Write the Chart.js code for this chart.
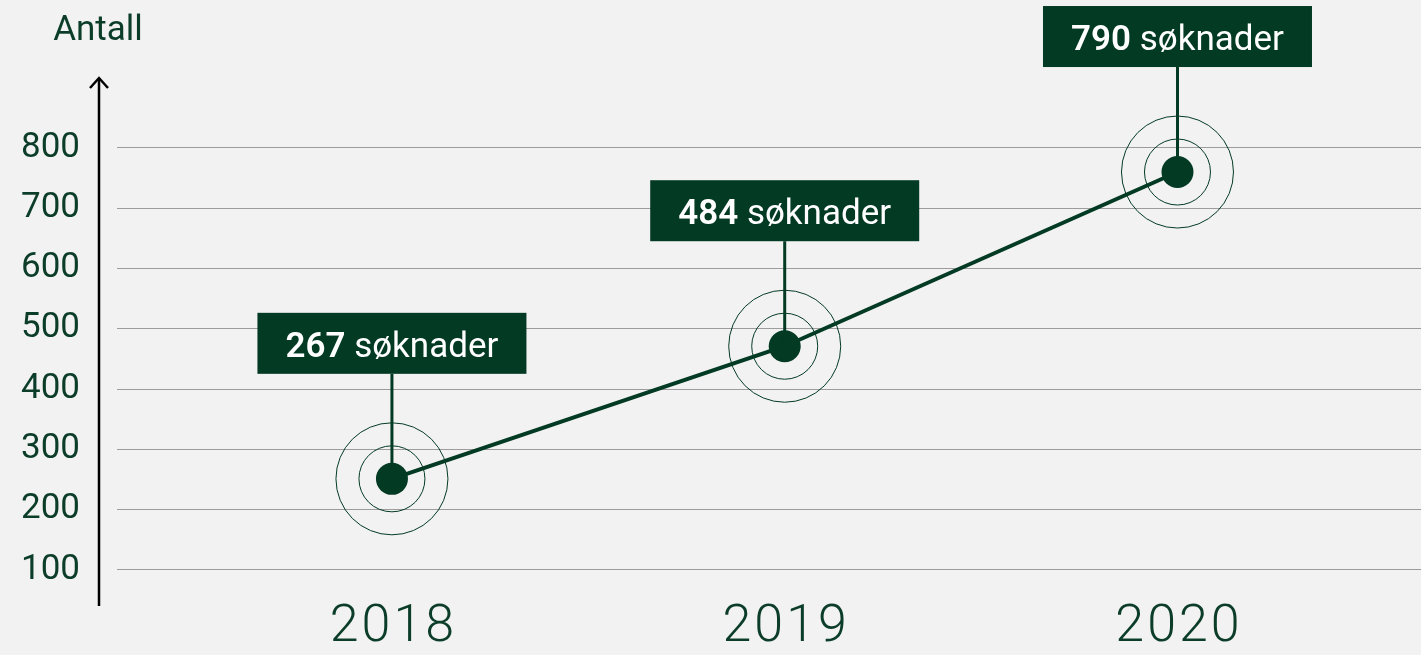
<!DOCTYPE html>
<html>
<head>
<meta charset="utf-8">
<script src="https://cdn.jsdelivr.net/npm/chart.js@4"></script>
<style>
    html, body { margin: 0; padding: 0; background: #f2f2f2; overflow: hidden; }
    canvas { display: block; }
</style>
</head>
<body>
<canvas id="soknaderChart" width="1421" height="655"></canvas>
<script>
// data
const years = ["2018", "2019", "2020"];
const applications = [251, 471, 760]; // where the dots sit on the y scale
const labelCounts = ["267", "484", "790"]; // numbers printed in the boxes
const labelWord = "søknader";
const yTicks = [100, 200, 300, 400, 500, 600, 700, 800];
const yTitle = "Antall";

const green = "#033a23";
const textGreen = "#0b3d29";
const fontFam = "Roboto, 'Liberation Sans', sans-serif";

// axis arrow, y title, year labels, rings, stems and value boxes
const decorations = {
    id: "decorations",
    afterDraw(chart) {
        const ctx = chart.ctx;
        const area = chart.chartArea;
        const xs = chart.scales.x;
        const meta = chart.getDatasetMeta(0);

        ctx.save();
        // vertical axis with arrow
        ctx.strokeStyle = "#000";
        ctx.lineWidth = 2.5;
        ctx.beginPath();
        ctx.moveTo(99, area.bottom);
        ctx.lineTo(99, 78);
        ctx.stroke();
        ctx.beginPath();
        ctx.moveTo(90, 88);
        ctx.lineTo(99, 78);
        ctx.lineTo(108, 88);
        ctx.stroke();

        // title
        ctx.fillStyle = textGreen;
        ctx.font = "400 35px " + fontFam;
        ctx.textAlign = "center";
        ctx.textBaseline = "middle";
        ctx.fillText(yTitle, 98, 31);

        // years
        ctx.font = "300 52px " + fontFam;
        ctx.letterSpacing = "3px";
        years.forEach((y, i) => {
            ctx.fillText(y, xs.getPixelForValue(i) + 1.5, 628);
        });
        ctx.letterSpacing = "0px";

        meta.data.forEach((pt, i) => {
            const px = pt.x, py = pt.y;
            // rings
            ctx.strokeStyle = green;
            ctx.lineWidth = 1;
            [33, 56].forEach((r) => {
                ctx.beginPath();
                ctx.arc(px, py, r, 0, Math.PI * 2);
                ctx.stroke();
            });
            // stem
            const boxBottom = py - 105;
            ctx.lineWidth = 3;
            ctx.beginPath();
            ctx.moveTo(px, boxBottom);
            ctx.lineTo(px, py);
            ctx.stroke();
            // box
            const bw = 269, bh = 61;
            ctx.fillStyle = green;
            ctx.fillRect(px - bw / 2, boxBottom - bh, bw, bh);
            // text
            const boldFont = "600 35px " + fontFam;
            const regFont = "400 35px " + fontFam;
            ctx.font = boldFont;
            const w1 = ctx.measureText(labelCounts[i] + " ").width;
            ctx.font = regFont;
            const w2 = ctx.measureText(labelWord).width;
            let tx = px - (w1 + w2) / 2;
            const ty = boxBottom - bh + 44;
            ctx.fillStyle = "#fff";
            ctx.textAlign = "left";
            ctx.textBaseline = "alphabetic";
            ctx.font = boldFont;
            ctx.fillText(labelCounts[i] + " ", tx, ty);
            ctx.font = regFont;
            ctx.fillText(labelWord, tx + w1, ty);
            ctx.textAlign = "center";
            ctx.textBaseline = "middle";
        });
        ctx.restore();
    },
};

new Chart(document.getElementById("soknaderChart"), {
    type: "line",
    data: {
        datasets: [
            {
                data: applications.map((v, i) => ({ x: i, y: v })),
                borderColor: green,
                borderWidth: 4,
                backgroundColor: green,
                pointRadius: 16,
                pointBorderWidth: 0,
                pointBackgroundColor: green,
                tension: 0,
                clip: false,
            },
        ],
    },
    options: {
        responsive: false,
        animation: false,
        layout: { autoPadding: false, padding: { left: 0, right: 0, top: 78, bottom: 49 } },
        plugins: {
            legend: { display: false },
            tooltip: { enabled: false },
        },
        scales: {
            x: {
                type: "linear",
                min: -0.7,
                max: 2.62,
                display: false,
            },
            y: {
                min: 40,
                max: 916,
                afterBuildTicks: (s) => {
                    s.ticks = yTicks.map((v) => ({ value: v }));
                },
                afterFit: (s) => {
                    s.width = 117;
                    // tick padding is only meant to push labels left
                    s.paddingTop = 0;
                    s.paddingBottom = 0;
                },
                border: { display: false },
                grid: {
                    color: "#9c9c9c",
                    lineWidth: 1,
                    drawTicks: false,
                },
                ticks: {
                    padding: 37,
                    color: textGreen,
                    font: { family: fontFam, size: 35, weight: "400" },
                },
            },
        },
    },
    plugins: [decorations],
});
</script>
</body>
</html>
